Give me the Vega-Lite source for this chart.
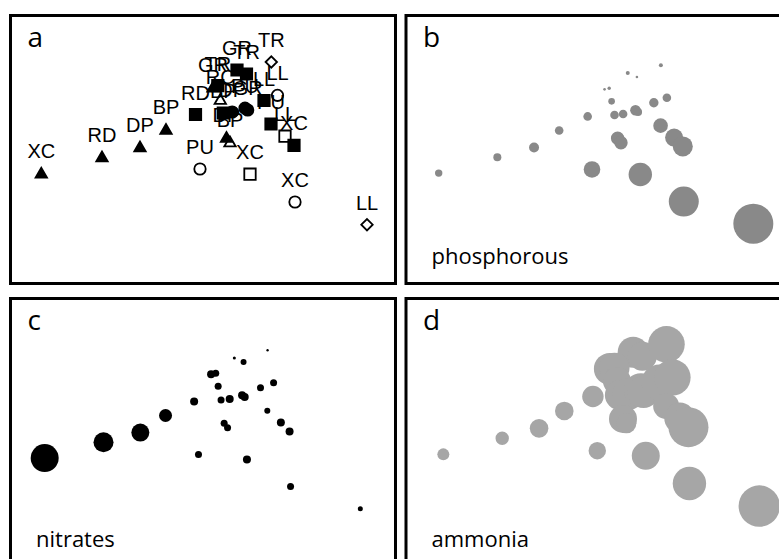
{
  "$schema": "https://vega.github.io/schema/vega-lite/v6.json",
  "padding": {"left": 8.5, "top": 13.5, "right": 0, "bottom": 0},
  "background": "white",
  "config": {
    "view": {"stroke": "black", "strokeWidth": 3},
    "title": {"anchor": "start", "frame": "group", "orient": "top", "offset": -37, "baseline": "alphabetic", "dx": 17, "font": "Open Sans", "fontSize": 28, "fontWeight": "normal", "color": "black"},
    "axisX": {"domain": false, "ticks": false, "labels": false, "grid": false, "titleAnchor": "start", "titleAlign": "left", "titleX": 25, "titleY": -20, "titleBaseline": "alphabetic", "titleFont": "Open Sans", "titleFontSize": 22, "titleFontWeight": "normal", "titleColor": "black", "titlePadding": 0}
  },
  "data": {"values": [
    {"id": 1, "site": "XC", "symbol": "triangle", "fill": "filled", "axis1": -1.607, "axis2": -0.207, "phosphorous": 13.7, "nitrates": 196, "ammonia": 36},
    {"id": 2, "site": "RD", "symbol": "triangle", "fill": "filled", "axis1": -1.0, "axis2": -0.045, "phosphorous": 16, "nitrates": 100, "ammonia": 44.9},
    {"id": 3, "site": "DP", "symbol": "triangle", "fill": "filled", "axis1": -0.62, "axis2": 0.055, "phosphorous": 25, "nitrates": 81, "ammonia": 86.5},
    {"id": 4, "site": "BP", "symbol": "triangle", "fill": "filled", "axis1": -0.36, "axis2": 0.23, "phosphorous": 18.5, "nitrates": 42.3, "ammonia": 86.5},
    {"id": 5, "site": "RD", "symbol": "square", "fill": "filled", "axis1": -0.065, "axis2": 0.375, "phosphorous": 18.5, "nitrates": 16, "ammonia": 114.5},
    {"id": 6, "site": "PU", "symbol": "circle", "fill": "open", "axis1": -0.02, "axis2": -0.17, "phosphorous": 68.9, "nitrates": 12.3, "ammonia": 75.7},
    {"id": 7, "site": "GR", "symbol": "square", "fill": "filled", "axis1": 0.35, "axis2": 0.82, "phosphorous": 4, "nitrates": 2.3, "ammonia": 240},
    {"id": 8, "site": "TR", "symbol": "square", "fill": "filled", "axis1": 0.445, "axis2": 0.78, "phosphorous": 1.7, "nitrates": 9, "ammonia": 210},
    {"id": 9, "site": "TR", "symbol": "diamond", "fill": "open", "axis1": 0.693, "axis2": 0.9, "phosphorous": 4, "nitrates": 1.4, "ammonia": 335},
    {"id": 10, "site": "GR", "symbol": "triangle", "fill": "filled", "axis1": 0.11, "axis2": 0.653, "phosphorous": 1.7, "nitrates": 16, "ammonia": 256},
    {"id": 11, "site": "TR", "symbol": "square", "fill": "filled", "axis1": 0.158, "axis2": 0.664, "phosphorous": 2.9, "nitrates": 12.3, "ammonia": 225},
    {"id": 12, "site": "RC", "symbol": "triangle", "fill": "open", "axis1": 0.183, "axis2": 0.53, "phosphorous": 10.9, "nitrates": 12.3, "ammonia": 196},
    {"id": 13, "site": "BP", "symbol": "square", "fill": "filled", "axis1": 0.213, "axis2": 0.39, "phosphorous": 18.5, "nitrates": 12.3, "ammonia": 225},
    {"id": 14, "site": "DP", "symbol": "circle", "fill": "filled", "axis1": 0.302, "axis2": 0.4, "phosphorous": 18.5, "nitrates": 16, "ammonia": 256},
    {"id": 15, "site": "PU", "symbol": "circle", "fill": "filled", "axis1": 0.43, "axis2": 0.438, "phosphorous": 28.1, "nitrates": 16, "ammonia": 289},
    {"id": 16, "site": "GR", "symbol": "circle", "fill": "filled", "axis1": 0.457, "axis2": 0.42, "phosphorous": 16, "nitrates": 16, "ammonia": 256},
    {"id": 17, "site": "LL", "symbol": "square", "fill": "filled", "axis1": 0.62, "axis2": 0.515, "phosphorous": 22.1, "nitrates": 12.3, "ammonia": 324},
    {"id": 18, "site": "LL", "symbol": "circle", "fill": "open", "axis1": 0.755, "axis2": 0.567, "phosphorous": 18.5, "nitrates": 12.3, "ammonia": 330},
    {"id": 19, "site": "DP", "symbol": "triangle", "fill": "filled", "axis1": 0.245, "axis2": 0.15, "phosphorous": 44.9, "nitrates": 12.3, "ammonia": 196},
    {"id": 20, "site": "BP", "symbol": "triangle", "fill": "open", "axis1": 0.28, "axis2": 0.105, "phosphorous": 44.9, "nitrates": 12.3, "ammonia": 100},
    {"id": 21, "site": "PU", "symbol": "square", "fill": "filled", "axis1": 0.69, "axis2": 0.28, "phosphorous": 53.3, "nitrates": 9, "ammonia": 169},
    {"id": 22, "site": "LL", "symbol": "square", "fill": "open", "axis1": 0.83, "axis2": 0.158, "phosphorous": 81, "nitrates": 16, "ammonia": 240},
    {"id": 23, "site": "XC", "symbol": "square", "fill": "filled", "axis1": 0.92, "axis2": 0.067, "phosphorous": 100, "nitrates": 16, "ammonia": 400},
    {"id": 24, "site": "XC", "symbol": "square", "fill": "open", "axis1": 0.48, "axis2": -0.222, "phosphorous": 136.9, "nitrates": 16, "ammonia": 196},
    {"id": 25, "site": "XC", "symbol": "circle", "fill": "open", "axis1": 0.93, "axis2": -0.5, "phosphorous": 225, "nitrates": 12.3, "ammonia": 279},
    {"id": 26, "site": "LL", "symbol": "diamond", "fill": "open", "axis1": 1.65, "axis2": -0.727, "phosphorous": 400, "nitrates": 6.3, "ammonia": 428}
  ]},
  "columns": 2,
  "spacing": {"row": 11, "column": 6.5},
  "concat": [
    {
      "width": 385, "height": 268,
      "title": {"text": "a"},
      "layer": [
        {
          "mark": {"type": "point", "filled": true, "size": 130, "stroke": "black", "strokeWidth": 1.8, "opacity": 1},
          "encoding": {
            "x": {"field": "axis1", "type": "quantitative", "scale": {"domain": [-1.915, 1.935], "nice": false, "zero": false}, "axis": null},
            "y": {"field": "axis2", "type": "quantitative", "scale": {"domain": [-1.315, 1.365], "nice": false, "zero": false}, "axis": null},
            "shape": {"field": "symbol", "type": "nominal", "scale": {"domain": ["triangle", "square", "circle", "diamond"], "range": ["triangle-up", "square", "circle", "diamond"]}, "legend": null},
            "fill": {"field": "fill", "type": "nominal", "scale": {"domain": ["filled", "open"], "range": ["black", "transparent"]}, "legend": null}
          }
        },
        {
          "mark": {"type": "text", "dy": -15, "baseline": "alphabetic", "align": "center", "font": "Liberation Sans", "fontSize": 20, "color": "black"},
          "encoding": {
            "x": {"field": "axis1", "type": "quantitative", "scale": {"domain": [-1.915, 1.935], "nice": false, "zero": false}, "axis": null},
            "y": {"field": "axis2", "type": "quantitative", "scale": {"domain": [-1.315, 1.365], "nice": false, "zero": false}, "axis": null},
            "text": {"field": "site", "type": "nominal"}
          }
        }
      ]
    },
    {
      "width": 385, "height": 268,
      "title": {"text": "b"},
      "mark": {"type": "circle", "opacity": 1, "color": "#898989"},
      "encoding": {
        "x": {"field": "axis1", "type": "quantitative", "scale": {"domain": [-1.9455, 2.04], "nice": false, "zero": false}, "axis": {"title": "phosphorous"}},
        "y": {"field": "axis2", "type": "quantitative", "scale": {"domain": [-1.341, 1.4115], "nice": false, "zero": false}, "axis": null},
        "size": {"field": "phosphorous", "type": "quantitative", "scale": {"type": "linear", "domain": [0, 500], "range": [0, 2000]}, "legend": null}
      }
    },
    {
      "width": 385, "height": 268,
      "title": {"text": "c"},
      "mark": {"type": "circle", "opacity": 1, "color": "black"},
      "encoding": {
        "x": {"field": "axis1", "type": "quantitative", "scale": {"domain": [-1.9598, 2.013], "nice": false, "zero": false}, "axis": {"title": "nitrates"}},
        "y": {"field": "axis2", "type": "quantitative", "scale": {"domain": [-1.321, 1.432], "nice": false, "zero": false}, "axis": null},
        "size": {"field": "nitrates", "type": "quantitative", "scale": {"type": "linear", "domain": [0, 500], "range": [0, 2000]}, "legend": null}
      }
    },
    {
      "width": 385, "height": 268,
      "title": {"text": "d"},
      "mark": {"type": "circle", "opacity": 1, "color": "#a6a6a6"},
      "encoding": {
        "x": {"field": "axis1", "type": "quantitative", "scale": {"domain": [-1.9918, 1.977], "nice": false, "zero": false}, "axis": {"title": "ammonia"}},
        "y": {"field": "axis2", "type": "quantitative", "scale": {"domain": [-1.335, 1.361], "nice": false, "zero": false}, "axis": null},
        "size": {"field": "ammonia", "type": "quantitative", "scale": {"type": "linear", "domain": [0, 500], "range": [0, 2000]}, "legend": null}
      }
    }
  ]
}
